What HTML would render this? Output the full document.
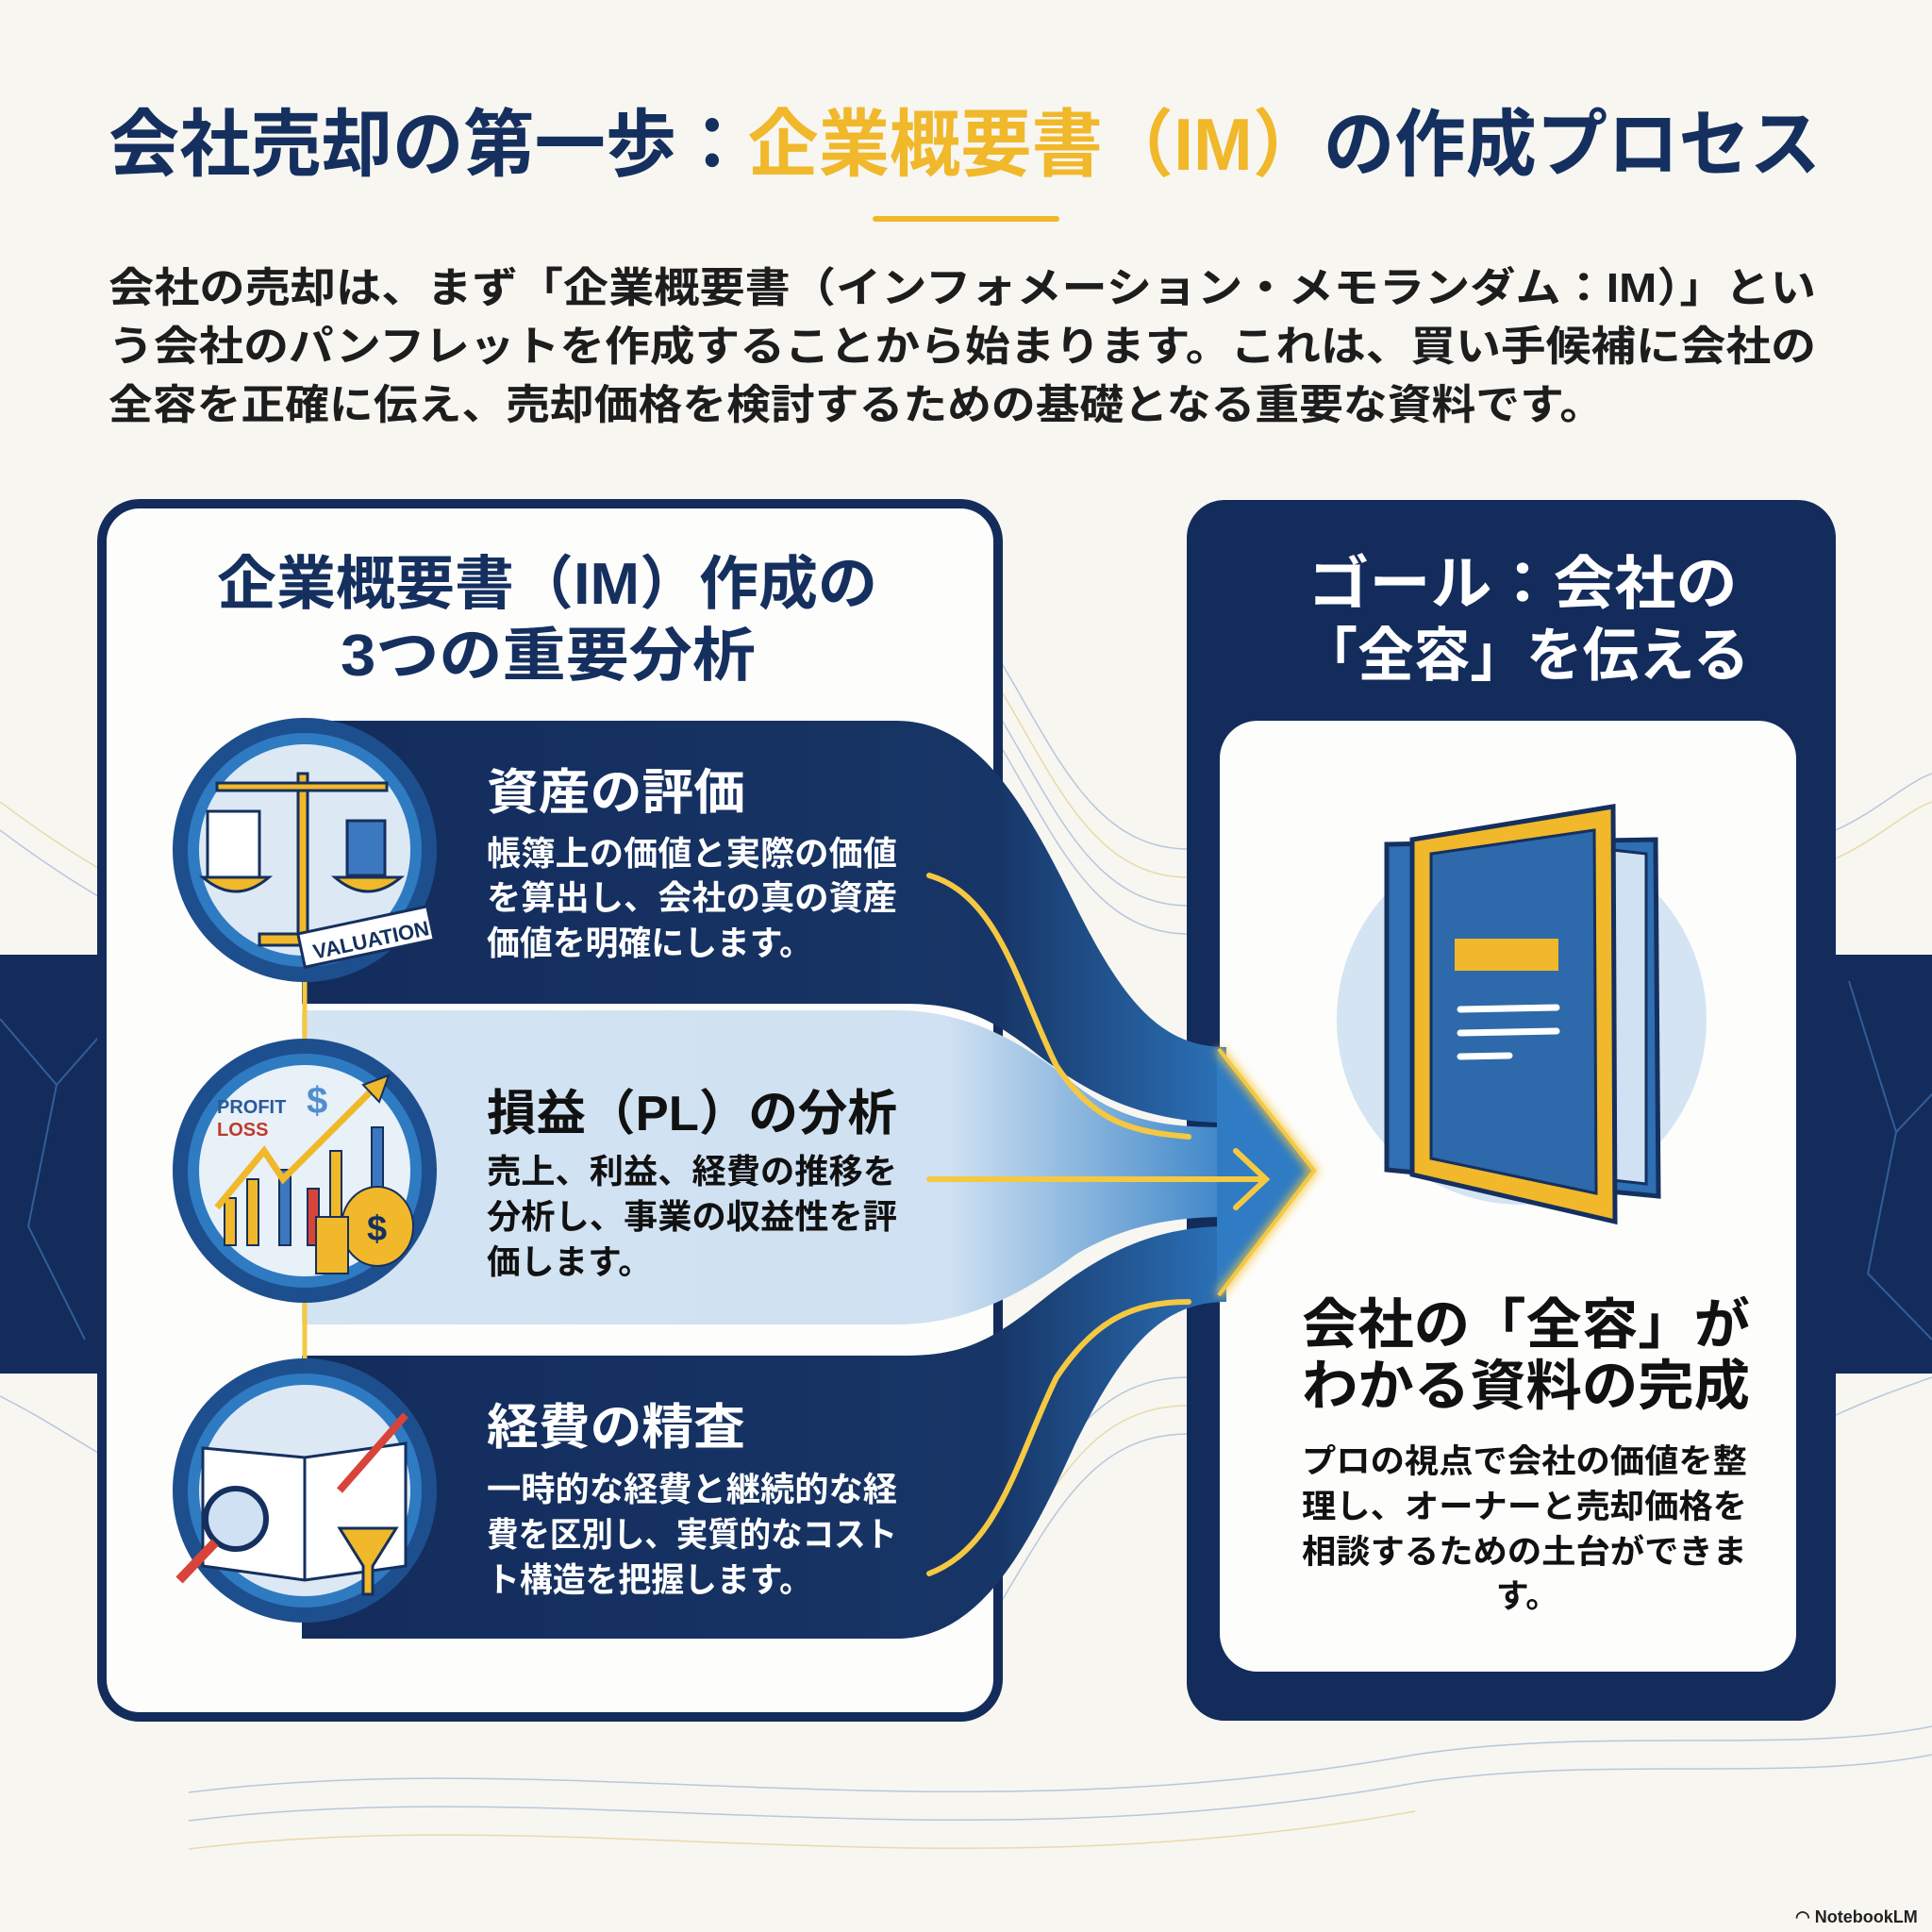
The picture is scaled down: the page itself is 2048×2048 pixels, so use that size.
<!DOCTYPE html>
<html><head><meta charset="utf-8">
<style>
html,body{margin:0;padding:0;background:#f7f6f1;}
svg{display:block;}
text{font-family:"Liberation Sans","Noto Sans CJK JP",sans-serif;font-weight:bold;}
</style></head>
<body>
<svg width="2048" height="2048" viewBox="0 0 2048 2048" xmlns="http://www.w3.org/2000/svg">
<defs>
<linearGradient id="lb" x1="0" x2="1" y1="0" y2="0">
<stop offset="0" stop-color="#d3e4f3"/><stop offset="0.7" stop-color="#cfe1f2"/><stop offset="1" stop-color="#3d86c8"/>
</linearGradient>
<linearGradient id="dk" x1="0" x2="1"><stop offset="0" stop-color="#132c5c"/><stop offset="0.75" stop-color="#173566"/><stop offset="1" stop-color="#2b72b8"/></linearGradient>
<filter id="glow" x="-20%" y="-20%" width="140%" height="140%"><feGaussianBlur stdDeviation="5"/></filter>
</defs>
<rect width="2048" height="2048" fill="#f7f6f1"/>

<!-- background waves -->
<g fill="none" stroke-width="1.5" opacity="0.7">
<path d="M1060 700 C1120 800 1160 900 1260 900" stroke="#9fb4d2"/>
<path d="M1060 730 C1120 830 1160 930 1260 930" stroke="#e3cf8a"/>
<path d="M1060 760 C1120 860 1160 960 1260 960" stroke="#9fb4d2"/>
<path d="M1060 790 C1120 890 1160 990 1260 990" stroke="#9fb4d2"/>
<path d="M1060 1640 C1120 1540 1160 1460 1260 1460" stroke="#9fb4d2"/>
<path d="M1060 1670 C1120 1570 1160 1490 1260 1490" stroke="#e3cf8a"/>
<path d="M1060 1700 C1120 1600 1160 1520 1260 1520" stroke="#9fb4d2"/>
<path d="M0 850 C40 880 70 900 104 920" stroke="#e3cf8a"/>
<path d="M0 880 C40 910 70 930 104 950" stroke="#9fb4d2"/>
<path d="M1946 880 C1990 860 2020 830 2048 820" stroke="#9fb4d2"/>
<path d="M1946 910 C1990 890 2020 860 2048 850" stroke="#e3cf8a"/>
<path d="M0 1480 C40 1500 70 1520 104 1540" stroke="#9fb4d2"/>
<path d="M1946 1500 C1990 1480 2020 1470 2048 1460" stroke="#9fb4d2"/>
<path d="M200 1900 C600 1850 1000 1950 1500 1860 C1700 1830 1900 1860 2048 1830" stroke="#9fb4d2"/>
<path d="M200 1930 C600 1880 1000 1980 1500 1890 C1700 1860 1900 1890 2048 1860" stroke="#9fb4d2"/>
<path d="M200 1960 C600 1910 1000 2010 1500 1920" stroke="#e3cf8a"/>
</g>
<!-- dark bands at sides -->
<rect x="0" y="1012" width="110" height="444" fill="#132c5c"/>
<rect x="1940" y="1012" width="108" height="444" fill="#132c5c"/>
<g stroke="#3b6aa8" stroke-width="2" fill="none" opacity="0.8">
<path d="M0 1080 L60 1150 L30 1300 L90 1420"/><path d="M60 1150 L104 1100"/><path d="M1960 1040 L2010 1200 L1980 1350 L2048 1420"/><path d="M2010 1200 L2048 1160"/>
</g>

<!-- Title -->
<text x="115" y="180" font-size="78" fill="#15305f" textLength="1815" lengthAdjust="spacingAndGlyphs">会社売却の第一歩：<tspan fill="#f0b82a">企業概要書（IM）</tspan>の作成プロセス</text>
<rect x="925" y="229" width="198" height="6" rx="3" fill="#f0b82a"/>

<!-- Intro -->
<g font-size="44" fill="#1d1d1d">
<text x="115" y="320" textLength="1810" lengthAdjust="spacingAndGlyphs">会社の売却は、まず「企業概要書（インフォメーション・メモランダム：IM）」とい</text>
<text x="115" y="382" textLength="1810" lengthAdjust="spacingAndGlyphs">う会社のパンフレットを作成することから始まります。これは、買い手候補に会社の</text>
<text x="115" y="444" textLength="1585" lengthAdjust="spacingAndGlyphs">全容を正確に伝え、売却価格を検討するための基礎となる重要な資料です。</text>
</g>

<!-- Left panel -->
<rect x="108" y="534" width="950" height="1286" rx="40" fill="#fdfdfc" stroke="#132c5c" stroke-width="10"/>
<text x="580" y="640" font-size="62" fill="#15305f" text-anchor="middle" textLength="700" lengthAdjust="spacingAndGlyphs">企業概要書（IM）作成の</text>
<text x="581" y="716" font-size="62" fill="#15305f" text-anchor="middle" textLength="440" lengthAdjust="spacingAndGlyphs">3つの重要分析</text>

<!-- Right panel -->
<rect x="1258" y="530" width="688" height="1294" rx="40" fill="#132c5c"/>
<text x="1614" y="640" font-size="62" fill="#fff" text-anchor="middle" textLength="455" lengthAdjust="spacingAndGlyphs">ゴール：会社の</text>
<text x="1617" y="716" font-size="62" fill="#fff" text-anchor="middle" textLength="475" lengthAdjust="spacingAndGlyphs">「全容」を伝える</text>
<rect x="1293" y="764" width="611" height="1008" rx="40" fill="#fdfdfc"/>

<!-- Ribbons -->
<path d="M320 764 H950 C1040 764 1090 860 1140 960 C1190 1060 1230 1110 1300 1110 L1300 1190 C1200 1190 1140 1150 1090 1110 C1050 1080 1020 1064 960 1064 H320 Z" fill="url(#dk)"/>
<path d="M320 1437 H960 C1020 1437 1050 1420 1090 1390 C1140 1350 1200 1300 1300 1300 L1300 1380 C1230 1380 1190 1430 1140 1530 C1090 1640 1040 1737 950 1737 H320 Z" fill="url(#dk)"/>
<path d="M320 1071 H950 C1020 1071 1080 1100 1140 1150 C1190 1190 1240 1195 1300 1195 L1300 1290 C1240 1290 1190 1300 1140 1330 C1080 1375 1020 1404 950 1404 H320 Z" fill="url(#lb)"/>
<!-- arrow head -->
<path d="M1290 1110 L1393 1241 L1290 1375 Z" fill="#2f7cc4"/>
<path d="M1292 1112 L1393 1241 L1292 1373" fill="none" stroke="#f5c842" stroke-width="8" filter="url(#glow)"/>
<path d="M1292 1112 L1393 1241 L1292 1373" fill="none" stroke="#f5c842" stroke-width="4"/>
<!-- yellow flow lines -->
<g fill="none" stroke="#f5c842" stroke-width="6" stroke-linecap="round">
<path d="M985 928 C1060 950 1080 1050 1120 1130 C1160 1190 1200 1200 1260 1205"/>
<path d="M985 1668 C1060 1640 1080 1540 1120 1460 C1160 1400 1200 1380 1260 1380"/>
<path d="M985 1250 H1340"/>
<path d="M1310 1220 L1342 1250 L1310 1280"/>
</g>
<g fill="none" stroke="#f5c842" stroke-width="12" opacity="0.4" filter="url(#glow)">
<path d="M985 1250 H1340"/>
</g>

<!-- connector lines -->
<line x1="323" y1="1035" x2="323" y2="1110" stroke="#f5c842" stroke-width="5"/>
<line x1="323" y1="1375" x2="323" y2="1450" stroke="#f5c842" stroke-width="5"/>

<!-- Circles -->
<g>
<circle cx="323" cy="901" r="140" fill="#1d4f8e"/><circle cx="323" cy="901" r="124" fill="#2e7bc2"/><circle cx="323" cy="901" r="112" fill="#dce9f5"/>
<circle cx="323" cy="1241" r="140" fill="#1d4f8e"/><circle cx="323" cy="1241" r="124" fill="#2e7bc2"/><circle cx="323" cy="1241" r="112" fill="#e8f0f8"/>
<circle cx="323" cy="1580" r="140" fill="#1d4f8e"/><circle cx="323" cy="1580" r="124" fill="#2e7bc2"/><circle cx="323" cy="1580" r="112" fill="#dce9f5"/>
</g>
<!-- icon 1: scale -->
<g stroke="#15305f" stroke-width="3">
<rect x="316" y="820" width="10" height="170" fill="#f0b82a"/>
<rect x="230" y="830" width="180" height="8" fill="#f0b82a"/>
<path d="M215 930 Q250 960 285 930 Z" fill="#f0b82a"/>
<path d="M355 930 Q390 960 425 930 Z" fill="#f0b82a"/>
<rect x="220" y="860" width="55" height="70" fill="#fff"/>
<rect x="368" y="870" width="40" height="58" fill="#3b78c0"/>
<rect x="275" y="990" width="90" height="12" fill="#f0b82a"/>
<rect x="318" y="975" width="140" height="36" fill="#fff" transform="rotate(-12 388 993)"/>
</g>
<text x="330" y="1005" font-size="22" fill="#15305f" transform="rotate(-12 388 993)">VALUATION</text>
<!-- icon 2: chart -->
<g stroke="#15305f" stroke-width="2">
<rect x="238" y="1270" width="12" height="50" fill="#f0b82a"/>
<rect x="262" y="1250" width="12" height="70" fill="#f0b82a"/>
<rect x="296" y="1240" width="12" height="80" fill="#3b78c0"/>
<rect x="326" y="1260" width="12" height="60" fill="#d9443a"/>
<rect x="350" y="1220" width="12" height="100" fill="#f0b82a"/>
<rect x="394" y="1195" width="12" height="125" fill="#3b78c0"/>
<path d="M230 1280 L280 1220 L300 1250 L360 1190 L400 1150" fill="none" stroke="#f0b82a" stroke-width="7"/>
<path d="M385 1150 L412 1140 L402 1168 Z" fill="#f0b82a"/>
<ellipse cx="400" cy="1300" rx="38" ry="42" fill="#f0b82a"/>
<rect x="335" y="1290" width="34" height="60" fill="#f0b82a"/>
</g>
<text x="230" y="1180" font-size="20" fill="#2a5a9a">PROFIT</text>
<text x="230" y="1204" font-size="20" fill="#c0392b">LOSS</text>
<text x="325" y="1180" font-size="40" fill="#4f8fcf">$</text>
<text x="389" y="1315" font-size="38" fill="#15305f">$</text>
<!-- icon 3: book -->
<g stroke="#15305f" stroke-width="3">
<path d="M215 1535 L323 1545 L430 1530 L430 1660 L323 1675 L215 1660 Z" fill="#fff"/>
<line x1="323" y1="1545" x2="323" y2="1675"/>
<circle cx="250" cy="1610" r="32" fill="#cfe1f2" stroke-width="6"/>
<line x1="228" y1="1635" x2="190" y2="1675" stroke="#d9443a" stroke-width="10"/>
<path d="M360 1620 L420 1620 L395 1660 L395 1690 L385 1690 L385 1660 Z" fill="#f0b82a"/>
<line x1="360" y1="1580" x2="430" y2="1500" stroke="#d9443a" stroke-width="8"/>
</g>

<!-- Row texts -->
<g font-size="52" fill="#fff">
<text x="516" y="858" textLength="274" lengthAdjust="spacingAndGlyphs">資産の評価</text>
<text x="516" y="1531" textLength="274" lengthAdjust="spacingAndGlyphs">経費の精査</text>
</g>
<text x="516" y="1198" font-size="52" fill="#111" textLength="435" lengthAdjust="spacingAndGlyphs">損益（PL）の分析</text>
<g font-size="36" fill="#fff">
<text x="516" y="917" textLength="435" lengthAdjust="spacingAndGlyphs">帳簿上の価値と実際の価値</text>
<text x="516" y="964" textLength="435" lengthAdjust="spacingAndGlyphs">を算出し、会社の真の資産</text>
<text x="516" y="1012" textLength="345" lengthAdjust="spacingAndGlyphs">価値を明確にします。</text>
<text x="516" y="1591" textLength="435" lengthAdjust="spacingAndGlyphs">一時的な経費と継続的な経</text>
<text x="516" y="1639" textLength="435" lengthAdjust="spacingAndGlyphs">費を区別し、実質的なコスト</text>
<text x="516" y="1687" textLength="345" lengthAdjust="spacingAndGlyphs">ト構造を把握します。</text>
</g>
<g font-size="36" fill="#111">
<text x="516" y="1254" textLength="435" lengthAdjust="spacingAndGlyphs">売上、利益、経費の推移を</text>
<text x="516" y="1302" textLength="435" lengthAdjust="spacingAndGlyphs">分析し、事業の収益性を評</text>
<text x="516" y="1350" textLength="175" lengthAdjust="spacingAndGlyphs">価します。</text>
</g>

<!-- Book icon -->
<circle cx="1613" cy="1081" r="196" fill="#d4e4f2"/>
<path d="M1470 895 L1755 890 L1758 1268 L1470 1240 Z" fill="#2f6fb3" stroke="#15305f" stroke-width="5"/>
<path d="M1700 900 L1745 905 L1745 1255 L1700 1250 Z" fill="#cfe1f2" stroke="#15305f" stroke-width="3"/>
<path d="M1497 890 L1710 855 L1712 1295 L1497 1245 Z" fill="#f0b82a" stroke="#15305f" stroke-width="5"/>
<path d="M1517 905 L1690 880 L1692 1265 L1517 1228 Z" fill="#2d69ab" stroke="#15305f" stroke-width="3"/>
<rect x="1542" y="995" width="110" height="34" fill="#f0b82a"/>
<g stroke="#fff" stroke-width="7" stroke-linecap="round"><line x1="1548" y1="1070" x2="1650" y2="1068"/><line x1="1548" y1="1095" x2="1650" y2="1093"/><line x1="1548" y1="1120" x2="1600" y2="1119"/></g>

<!-- Right card text -->
<g font-size="58" fill="#111">
<text x="1380" y="1424" textLength="475" lengthAdjust="spacingAndGlyphs">会社の「全容」が</text>
<text x="1380" y="1489" textLength="475" lengthAdjust="spacingAndGlyphs">わかる資料の完成</text>
</g>
<g font-size="35" fill="#111">
<text x="1380" y="1561" textLength="472" lengthAdjust="spacingAndGlyphs">プロの視点で会社の価値を整</text>
<text x="1380" y="1609" textLength="472" lengthAdjust="spacingAndGlyphs">理し、オーナーと売却価格を</text>
<text x="1380" y="1657" textLength="472" lengthAdjust="spacingAndGlyphs">相談するための土台ができま</text>
<text x="1619" y="1704" text-anchor="middle">す。</text>
</g>

<text x="1903" y="2038" font-size="18" fill="#222">◠ NotebookLM</text>
</svg>
</body></html>
